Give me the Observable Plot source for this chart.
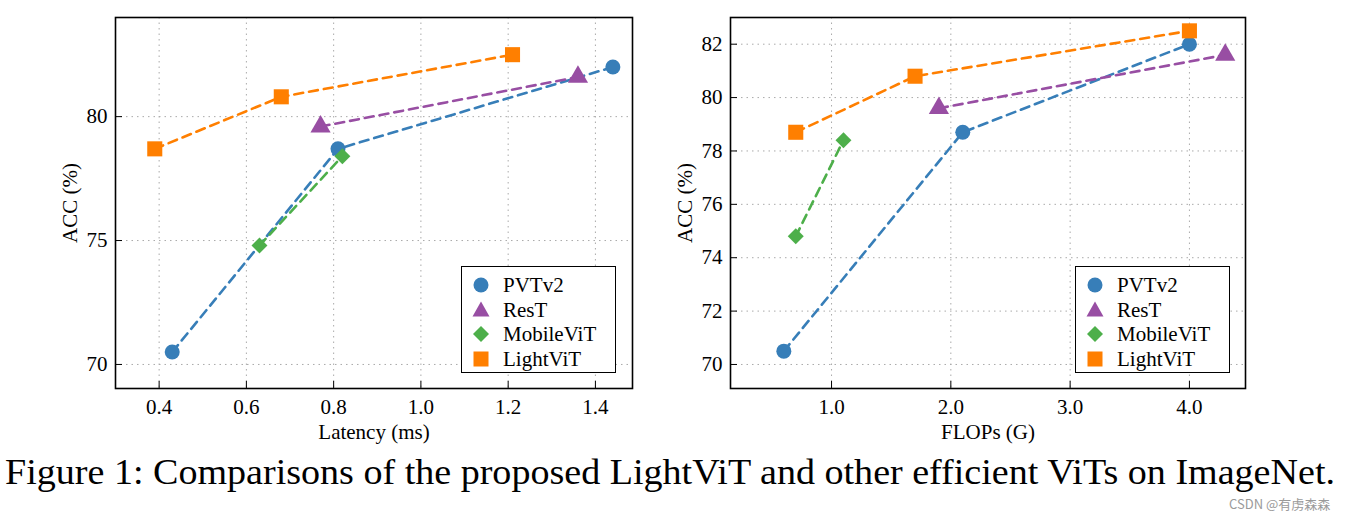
<!DOCTYPE html>
<html><head><meta charset="utf-8">
<script src="https://cdn.jsdelivr.net/npm/d3@7"></script>
<script src="https://cdn.jsdelivr.net/npm/@observablehq/plot@0.6"></script>
<style>
body{margin:0;background:#fff;width:1346px;height:518px;position:relative;overflow:hidden;font-family:"Liberation Serif",serif}
.panel{position:absolute;top:0}
.panel svg text{font-family:"Liberation Serif",serif !important;font-size:21px !important}
.legend{position:absolute;top:266px;width:153px;height:105px;border:1.5px solid #000;background:#fff;font-family:"Liberation Serif",serif;font-size:21px;color:#000}
.legend .row{position:absolute;left:0;height:24px}
.legend svg{position:absolute;left:10px;top:2px}
.legend span{position:absolute;left:41px;top:0;white-space:nowrap;line-height:24px}
#caption{position:absolute;left:5px;top:455px;font-family:"Liberation Serif",serif;font-size:36px;line-height:34px;white-space:nowrap;transform-origin:0 0;color:#000}
#wm{position:absolute;left:1229px;top:497px;font-family:"Noto Sans CJK SC","DejaVu Sans",sans-serif;font-size:13px;line-height:14px;color:#9a9a9a;white-space:nowrap}
</style></head><body>
<div id="left" class="panel" style="left:0"></div>
<div id="right" class="panel" style="left:673px"></div>
<div id="caption">Figure 1: Comparisons of the proposed LightViT and other efficient ViTs on ImageNet.</div>
<div id="wm">CSDN @有虏森森</div>
<script>
const models = ["PVTv2", "ResT", "MobileViT", "LightViT"];
const colors = ["#377eb8", "#984ea3", "#4daf4a", "#ff7f00"];
const symbols = ["circle", "triangle", "diamond2", "square"];
const radii = [7.5, 7.5, 7.2, 8.5];

const pvtLatency = [0.43, 0.81, 1.44];
const pvtFlops = [0.6, 2.1, 4.0];
const pvtAcc = [70.5, 78.7, 82.0];
const restLatency = [0.77, 1.36];
const restFlops = [1.9, 4.3];
const restAcc = [79.6, 81.6];
const mobileLatency = [0.63, 0.82];
const mobileFlops = [0.7, 1.1];
const mobileAcc = [74.8, 78.4];
const lightLatency = [0.39, 0.68, 1.21];
const lightFlops = [0.7, 1.7, 4.0];
const lightAcc = [78.7, 80.8, 82.5];

const leftXTicks = [0.4, 0.6, 0.8, 1.0, 1.2, 1.4];
const leftYTicks = [70, 75, 80];
const rightXTicks = [1.0, 2.0, 3.0, 4.0];
const rightYTicks = [70, 72, 74, 76, 78, 80, 82];

const latencyCols = [pvtLatency, restLatency, mobileLatency, lightLatency];
const flopsCols = [pvtFlops, restFlops, mobileFlops, lightFlops];
const accCols = [pvtAcc, restAcc, mobileAcc, lightAcc];

function series(xCols) {
  return models.map((m, i) => xCols[i].map((x, j) => ({model: m, x, y: accCols[i][j]})));
}

function chart(xCols, opts) {
  const s = series(xCols);
  const marks = [
    Plot.gridX(opts.xTicks, {stroke: "#aaa", strokeOpacity: 1, strokeDasharray: "1.5,4", strokeWidth: 1}),
    Plot.gridY(opts.yTicks, {stroke: "#aaa", strokeOpacity: 1, strokeDasharray: "1.5,4", strokeWidth: 1}),
    Plot.axisX(opts.xTicks, {tickSize: -7, tickFormat: () => "", label: null}),
    Plot.axisY(opts.yTicks, {tickSize: -7, tickFormat: () => "", label: null}),
    Plot.axisX(opts.xTicks, {tickSize: 0, tickPadding: 11, tickFormat: d3.format(".1f"), fontSize: 21, label: opts.xLabel, labelAnchor: "center", labelArrow: "none", labelOffset: 50}),
    Plot.axisY(opts.yTicks, {tickSize: 0, tickPadding: 8, tickFormat: d3.format("d"), fontSize: 21, label: opts.yLabel, labelAnchor: "center", labelArrow: "none", labelOffset: opts.yLabelOffset})
  ];
  s.forEach((d, i) => {
    marks.push(Plot.line(d, {x: "x", y: "y", stroke: colors[i], strokeWidth: 2.6, strokeDasharray: "9,6"}));
    marks.push(Plot.dot(d, {x: "x", y: "y", fill: colors[i], stroke: "none", symbol: () => symbols[i], r: radii[i]}));
  });
  marks.push(Plot.frame({stroke: "#000", strokeWidth: 1.6}));
  return Plot.plot({
    width: opts.width, height: 450,
    marginLeft: opts.ml, marginRight: opts.mr, marginTop: 17, marginBottom: 62,
    style: {fontFamily: "'Liberation Serif', serif", fontSize: "21px", color: "#000", background: "transparent"},
    x: {domain: opts.xDomain},
    y: {domain: opts.yDomain},
    marks
  });
}

function legend(left) {
  const div = document.createElement("div");
  div.className = "legend";
  div.style.left = left + "px";
  const shapes = [
    '<circle cx="9" cy="10" r="7.5"/>',
    '<path d="M9,1.5 L17.5,16.5 L0.5,16.5 Z"/>',
    '<path d="M9,2 L17,10 L9,18 L1,10 Z"/>',
    '<rect x="1.5" y="2.5" width="15" height="15"/>'
  ];
  models.forEach((m, i) => {
    const row = document.createElement("div");
    row.className = "row";
    row.style.top = (6 + i * 24.5) + "px";
    row.innerHTML = `<svg width="18" height="20" style="fill:${colors[i]}">${shapes[i]}</svg><span>${m}</span>`;
    div.appendChild(row);
  });
  return div;
}

const leftEl = document.getElementById("left");
leftEl.appendChild(chart(latencyCols, {width: 650, ml: 115, mr: 18, xDomain: [0.3, 1.485], yDomain: [69.03, 84], xTicks: leftXTicks, yTicks: leftYTicks, xLabel: "Latency (ms)", yLabel: "ACC (%)", yLabelOffset: 53}));
leftEl.appendChild(legend(461));

const rightEl = document.getElementById("right");
rightEl.appendChild(chart(flopsCols, {width: 673, ml: 57, mr: 101, xDomain: [0.153, 4.47], yDomain: [69.1, 83.0], xTicks: rightXTicks, yTicks: rightYTicks, xLabel: "FLOPs (G)", yLabel: "ACC (%)", yLabelOffset: 53}));
rightEl.appendChild(legend(1075 - 673));

const cap = document.getElementById("caption");
const w = cap.getBoundingClientRect().width;
cap.style.transform = `scaleX(${1330 / w})`;
</script>
</body></html>
